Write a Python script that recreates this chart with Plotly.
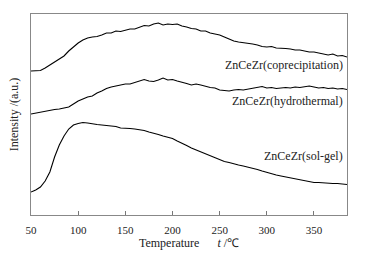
import plotly.graph_objects as go

temps = list(range(50, 390, 5))

coprecipitation = [144, 144, 144.5, 147, 150, 153, 156, 159, 164, 168, 172, 175, 177, 178, 178.5, 180,
                   182, 182, 184, 183.5, 185, 186, 186, 188, 189.5, 189, 191, 192, 190, 191, 190.5, 191,
                   189, 188, 186.5, 186, 184, 184, 182, 181, 180, 178, 176, 174, 173, 172.5, 172, 171,
                   170, 168.5, 168, 168.5, 167, 167, 166.5, 166, 165, 165, 164, 163, 163, 162, 161.5,
                   160, 161, 159, 159.5, 158]

hydrothermal = [101, 102, 103, 104, 105, 105.5, 106, 107, 108, 111, 114, 116, 118, 119, 122, 124,
                126.5, 128, 129, 130, 131, 131, 132.5, 134.5, 135.5, 134, 133.5, 135, 137, 135, 135.5,
                134, 133, 131.5, 130, 131, 130, 128.5, 127.5, 127, 125, 124.5, 124, 125, 125.5, 125,
                126, 127, 127.5, 128.5, 127, 127.5, 126.5, 127, 127.5, 127, 128, 127.5, 128.5, 129,
                128, 127, 127.5, 126.5, 127, 126, 126.5, 125.5]

sol_gel = [23, 25, 28, 34, 43, 58, 70, 79, 86, 90, 91.5, 92.5, 92, 91, 90.5, 90, 89.5, 88.5, 88.5,
           87, 87, 86.5, 86, 85.5, 84.5, 83, 82, 80.5, 79, 78, 76.5, 74, 72, 69.5, 67, 65, 63, 61,
           59, 57, 55, 53.5, 52.5, 51, 50, 49, 48, 47, 45.5, 44, 42.5, 41, 40, 39, 38, 37, 36, 35,
           34, 33, 32.5, 32.5, 32, 32, 31.5, 31.5, 31, 30.5]

labels = ["ZnCeZr(coprecipitation)", "ZnCeZr(hydrothermal)", "ZnCeZr(sol-gel)"]
label_y = [150, 114, 59]
tick_vals = [50, 100, 150, 200, 250, 300, 350]

font = "Liberation Serif"

fig = go.Figure()
for ys in (coprecipitation, hydrothermal, sol_gel):
    fig.add_trace(go.Scatter(x=temps, y=ys, mode="lines",
                             line=dict(color="black", width=1.1), showlegend=False))

for t, y in zip(labels, label_y):
    fig.add_annotation(x=383, y=y, text=t, showarrow=False, xanchor="right", yanchor="middle",
                       font=dict(family=font, size=12, color="#222"))

fig.update_layout(
    width=367, height=258,
    margin=dict(l=31, r=20, t=14, b=43),
    paper_bgcolor="white", plot_bgcolor="white",
    font=dict(family=font, size=12, color="#222"),
)
fig.update_xaxes(range=[50, 385], tickvals=tick_vals, ticks="inside", ticklen=4,
                 tickcolor="#777", showline=True, linecolor="#888", linewidth=1, mirror=True,
                 showgrid=False, zeroline=False, tickfont=dict(family=font, size=11),
                 ticklabelstandoff=5,
                 title=dict(text="Temperature      <i>t</i> /℃", font=dict(family=font, size=12), standoff=2))
fig.update_yaxes(range=[0, 201], showticklabels=False, ticks="", showline=True, linecolor="#888",
                 linewidth=1, mirror=True, showgrid=False, zeroline=False,
                 title=dict(text="Intensity /(a.u.)", font=dict(family=font, size=12), standoff=8))

fig.write_html("out.html", config={"displayModeBar": False},
               post_script="document.body.style.margin='0';document.body.style.overflow='hidden';")
